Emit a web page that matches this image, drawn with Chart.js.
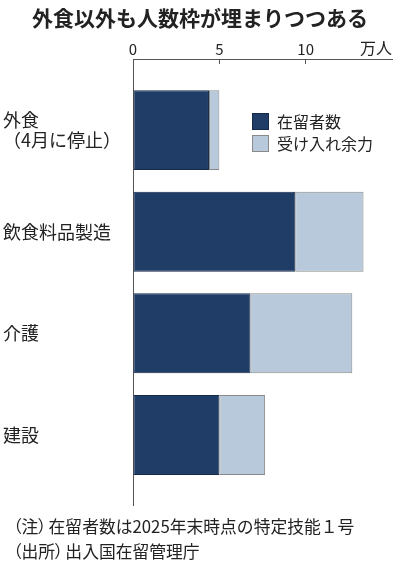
<!DOCTYPE html>
<html lang="ja">
<head>
<meta charset="utf-8">
<script src="https://cdn.jsdelivr.net/npm/chart.js@4.4.1/dist/chart.umd.min.js"></script>
<style>
  html, body { margin: 0; padding: 0; background: #fff; }
  body { width: 400px; height: 567px; position: relative; overflow: hidden;
         font-family: 'Noto Sans CJK JP', 'Noto Sans', sans-serif; color: #222; }
  #wrap { position: absolute; left: 0; top: 0; width: 400px; height: 567px; }
  #title { position: absolute; left: 0; top: 2px; width: 400px; text-align: center;
           font-size: 21px; font-weight: bold; line-height: 30px; }
  #legend { position: absolute; left: 252px; top: 110px; font-size: 16px; line-height: 22px; }
  .item { display: flex; align-items: center; height: 22px; }
  .box { width: 15px; height: 15px; margin-right: 8px; border: 1px solid; }
  #notes { position: absolute; left: 13px; top: 514px; font-size: 16.8px; line-height: 25px; }
  #notes .p { font-feature-settings: "palt"; margin-right: 2px; }
</style>
</head>
<body>
<div id="wrap"><canvas id="chart"></canvas></div>
<div id="title">外食以外も人数枠が埋まりつつある</div>
<div id="legend"></div>
<div id="notes">
  <div><span class="p">（注）</span>在留者数は2025年末時点の特定技能１号</div>
  <div><span class="p">（出所）</span>出入国在留管理庁</div>
</div>
<script>
// 分野
const categories = [['外食', '（4月に停止）'], '飲食料品製造', '介護', '建設'];
// 万人
const residents = [4.4, 9.4, 6.8, 5.0];
const remaining = [0.6, 3.95, 5.9, 2.65];
const seriesNames = ['在留者数', '受け入れ余力'];
const xTicks = [0, 5, 10];
const unitLabel = '万人';

const darkBlue = '#1f3d66';
const lightBlue = '#b7c9db';
const fontFamily = "'Noto Sans CJK JP', 'Noto Sans', sans-serif";

// legend
const legendColors = [[darkBlue, '#15294a'], [lightBlue, '#8a8a8a']];
document.getElementById('legend').innerHTML = seriesNames.map((name, i) =>
  `<div class="item"><span class="box" style="background:${legendColors[i][0]};border-color:${legendColors[i][1]}"></span>${name}</div>`
).join('');

const ctx = document.getElementById('chart').getContext('2d');
new Chart(ctx, {
  type: 'bar',
  data: {
    datasets: [{
      label: seriesNames[0],
      data: residents.map((v, i) => ({ x: v, y: i })),
      backgroundColor: darkBlue,
      borderColor: '#15294a',
      borderWidth: 1,
      borderSkipped: false
    }, {
      label: seriesNames[1],
      data: remaining.map((v, i) => ({ x: v, y: i })),
      backgroundColor: lightBlue,
      borderColor: '#8a8a8a',
      borderWidth: 1,
      borderSkipped: false
    }]
  },
  options: {
    indexAxis: 'y',
    responsive: true,
    maintainAspectRatio: false,
    animation: false,
    layout: { padding: { left: 3, right: 8, top: 28, bottom: 62 } },
    datasets: { bar: { categoryPercentage: 0.787, barPercentage: 1 } },
    plugins: { legend: { display: false }, tooltip: { enabled: false } },
    scales: {
      x: {
        position: 'top',
        min: 0,
        max: 15,
        stacked: true,
        afterFit: s => { s.height = 31; },
        afterBuildTicks: s => { s.ticks = xTicks.concat([15]).map(v => ({ value: v })); },
        grid: {
          display: true,
          drawOnChartArea: false,
          drawTicks: true,
          tickLength: -5,
          color: c => (c.tick && (c.tick.value === 5 || c.tick.value === 10)) ? '#555' : 'rgba(0,0,0,0)'
        },
        border: { display: true, color: '#555', width: 1 },
        ticks: {
          padding: 6,
          maxRotation: 0,
          color: '#222',
          font: { family: fontFamily, size: 15 },
          callback: v => xTicks.includes(v) ? String(v) : ''
        },
        title: {
          display: true,
          text: unitLabel,
          align: 'end',
          color: '#222',
          font: { family: fontFamily, size: 16 },
          padding: { top: 10, bottom: 0 }
        }
      },
      y: {
        type: 'linear',
        reverse: true,
        offset: false,
        min: -0.7,
        max: 3.69,
        stacked: true,
        afterFit: s => { s.width = 130; },
        afterBuildTicks: s => { s.ticks = categories.map((c, i) => ({ value: i })); },
        grid: { display: false, offset: false },
        border: { display: true, color: '#555', width: 1 },
        ticks: {
          crossAlign: 'far',
          color: '#222',
          font: { family: fontFamily, size: 18, lineHeight: 1.1 },
          callback: v => categories[v] !== undefined ? categories[v] : ''
        }
      }
    }
  }
});
</script>
</body>
</html>
